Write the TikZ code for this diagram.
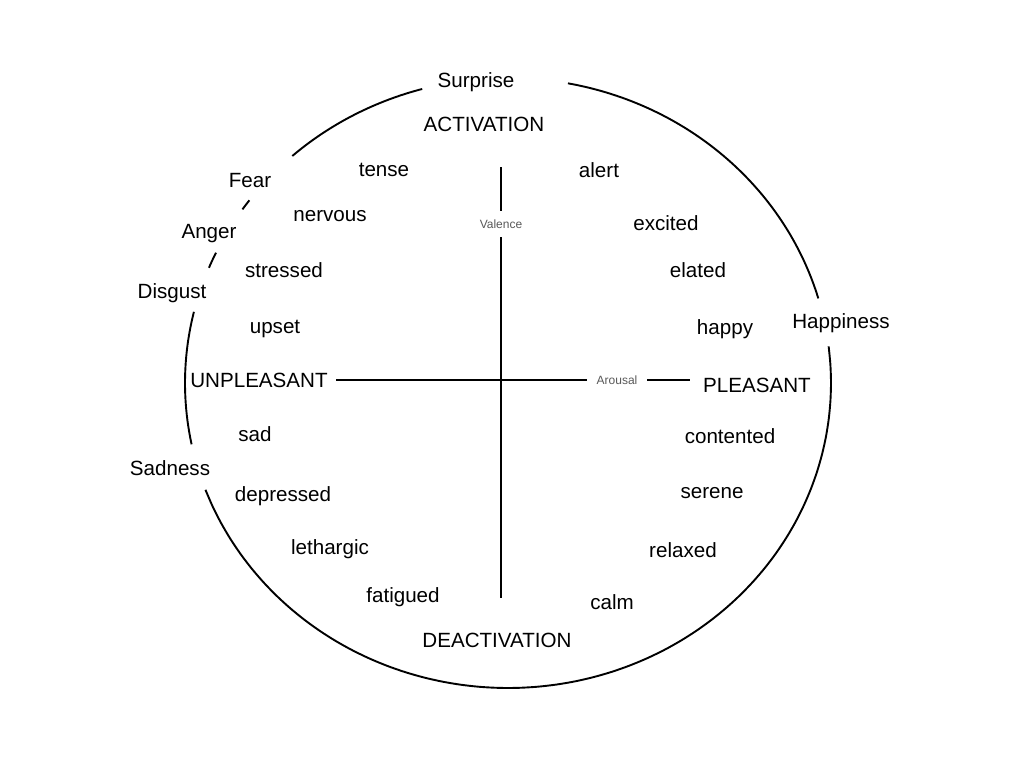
\documentclass[tikz,border=0pt]{standalone}
\usepackage{fontspec}
\setmainfont{Liberation Sans}
\begin{document}
\begin{tikzpicture}[x=0.5pt,y=-0.5pt,
  lbl/.style={font=\fontsize{10.3}{12}\selectfont, inner sep=0pt},
  axlbl/.style={font=\fontsize{6}{7}\selectfont, text=black!65},
  ln/.style={line width=0.95pt, black}]
\useasboundingbox[fill=white] (0,0) rectangle (1024,768);
\newcommand\earc[2]{\draw[ln] plot[domain=#1:#2, samples=50, smooth] ({508+323*cos(\x)},{383-305*sin(\x)});}
% circle segments between emotion labels
\earc{105.4}{131.9}
\earc{16.1}{79.3}
\earc{-159.5}{6.9}
\earc{166.5}{191.6}
\earc{154.7}{157.8}
\earc{143.2}{145.3}
% emotion labels
\node[lbl] (surprise) at (476,82) {Surprise};
\node[lbl] (fear) at (250,181) {Fear};
\node[lbl] (anger) at (209,234) {Anger};
\node[lbl] (disgust) at (172,293) {Disgust};
\node[lbl] (happiness) at (841,323) {Happiness};
\node[lbl] (sadness) at (170,468) {Sadness};
% pole labels
\node[lbl] (act) at (484,124) {ACTIVATION};
\node[lbl] (deact) at (497,640) {DEACTIVATION};
\node[lbl] (unpl) at (259,380) {UNPLEASANT};
\node[lbl] (pl) at (757,385) {PLEASANT};
% affect words
\node[lbl] (tense) at (384,170) {tense};
\node[lbl] (alert) at (599,170) {alert};
\node[lbl] (nervous) at (330,216) {nervous};
\node[lbl] (excited) at (666,223) {excited};
\node[lbl] (stressed) at (284,270) {stressed};
\node[lbl] (elated) at (698,270) {elated};
\node[lbl] (upset) at (275,329) {upset};
\node[lbl] (happy) at (725,329) {happy};
\node[lbl] (sad) at (255,434) {sad};
\node[lbl] (contented) at (730,436) {contented};
\node[lbl] (depressed) at (283,496) {depressed};
\node[lbl] (serene) at (712,493) {serene};
\node[lbl] (lethargic) at (330,549) {lethargic};
\node[lbl] (relaxed) at (683,550) {relaxed};
\node[lbl] (fatigued) at (403,597) {fatigued};
\node[lbl] (calm) at (612,602) {calm};
% axes
\node[axlbl, inner xsep=2pt, inner ysep=4.3pt] (val) at (501,224) {Valence};
\node[axlbl, inner xsep=4.8pt, inner ysep=2pt] (aro) at (617,380) {Arousal};
\coordinate (vtop) at (501,167);
\coordinate (vbot) at (501,598);
\coordinate (hl) at (336,380);
\coordinate (hr) at (690,380);
\draw[ln] (vtop) -- (val);
\draw[ln] (val) -- (vbot);
\draw[ln] (hl) -- (aro);
\draw[ln] (aro) -- (hr);
\end{tikzpicture}
\end{document}
